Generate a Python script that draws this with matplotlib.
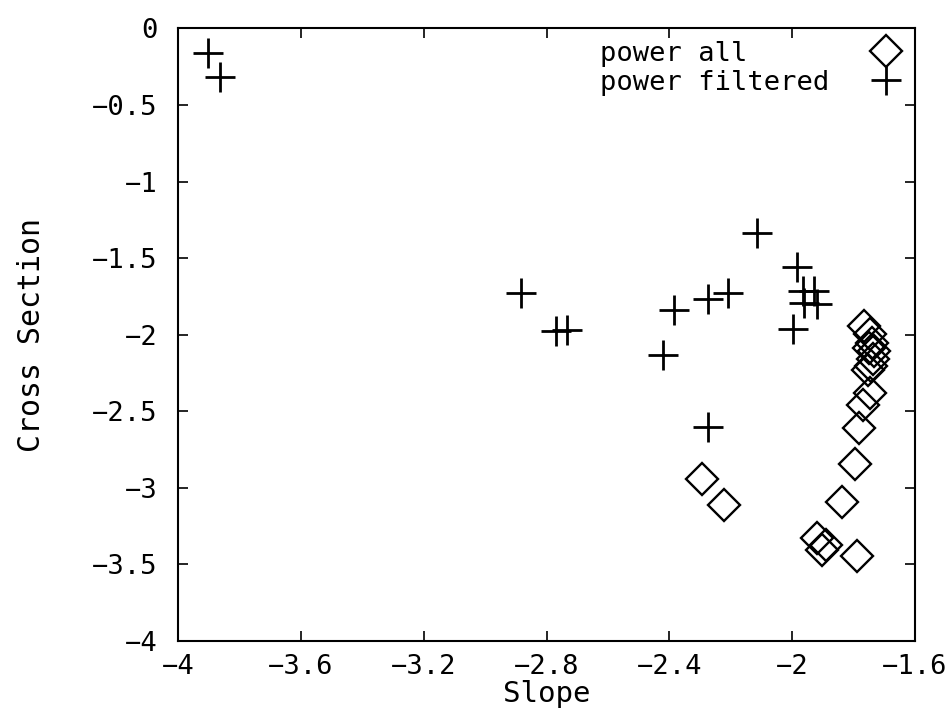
import matplotlib
matplotlib.use("Agg")
import matplotlib.pyplot as plt

# Data
all_x = [-1.766, -1.745, -1.740, -1.748, -1.732, -1.737, -1.743, -1.754, -1.745, -1.770,
         -1.781, -1.794, -1.837, -1.919, -1.890, -1.901, -1.787, -2.294, -2.221]
all_y = [-1.944, -1.998, -2.052, -2.085, -2.107, -2.161, -2.205, -2.227, -2.379, -2.456,
         -2.608, -2.843, -3.094, -3.327, -3.371, -3.403, -3.442, -2.941, -3.109]

filt_x = [-3.904, -3.863, -2.882, -2.770, -2.732, -2.420, -2.386, -2.275, -2.210, -2.273,
          -2.115, -1.984, -1.998, -1.965, -1.930, -1.960, -1.918]
filt_y = [-0.161, -0.314, -1.725, -1.976, -1.970, -2.129, -1.841, -1.769, -1.730, -2.601,
          -1.333, -1.557, -1.961, -1.715, -1.715, -1.791, -1.797]

x_ticks = [-4, -3.6, -3.2, -2.8, -2.4, -2, -1.6]
x_labels = ["\u22124", "\u22123.6", "\u22123.2", "\u22122.8", "\u22122.4", "\u22122", "\u22121.6"]
y_ticks = [0, -0.5, -1, -1.5, -2, -2.5, -3, -3.5, -4]
y_labels = ["0", "\u22120.5", "\u22121", "\u22121.5", "\u22122", "\u22122.5", "\u22123", "\u22123.5", "\u22124"]

plt.rcParams['font.family'] = ['DejaVu Sans Mono', 'DejaVu Sans']

fig = plt.figure(figsize=(9.53, 7.12), dpi=100)
ax = fig.add_axes([0.187, 0.0997, 0.773, 0.8603])

ax.plot(all_x, all_y, linestyle='none', marker='D', markersize=16.5,
        markerfacecolor='none', markeredgecolor='black', markeredgewidth=1.7,
        label='power all')
ax.plot(filt_x, filt_y, linestyle='none', marker='+', markersize=21,
        markeredgecolor='black', markeredgewidth=2.0, label='power filtered')

ax.set_xlim(-4, -1.6)
ax.set_ylim(-4, 0)
ax.set_xticks(x_ticks)
ax.set_xticklabels(x_labels)
ax.set_yticks(y_ticks)
ax.set_yticklabels(y_labels)
ax.tick_params(direction='in', length=7, width=1.2, top=True, right=True,
               labelsize=19.5)
ax.tick_params(axis='y', pad=15)
ax.tick_params(axis='x', pad=9)
for s in ax.spines.values():
    s.set_linewidth(1.5)

ax.set_xlabel("Slope", fontsize=21, labelpad=0)
ax.set_ylabel("Cross Section", fontsize=21.5, labelpad=33)

leg = ax.legend(loc='upper right', bbox_to_anchor=(1, 1), markerfirst=False,
                frameon=False, fontsize=19.5, handlelength=1.2, handletextpad=1.5,
                labelspacing=0.12, borderaxespad=0.0, borderpad=0.45)

# left-align legend texts while keeping the markers in one column
try:
    r = fig.canvas.get_renderer()
    widths = [t.get_window_extent(r).width for t in leg.get_texts()]
    wmax = max(widths)
    col = leg._legend_handle_box.get_children()[0]
    col.align = 'left'
    for row, w in zip(col.get_children(), widths):
        row.sep = row.sep + (wmax - w) * 72.0 / fig.dpi
except Exception:
    pass

fig.savefig("out.png", dpi=100)
